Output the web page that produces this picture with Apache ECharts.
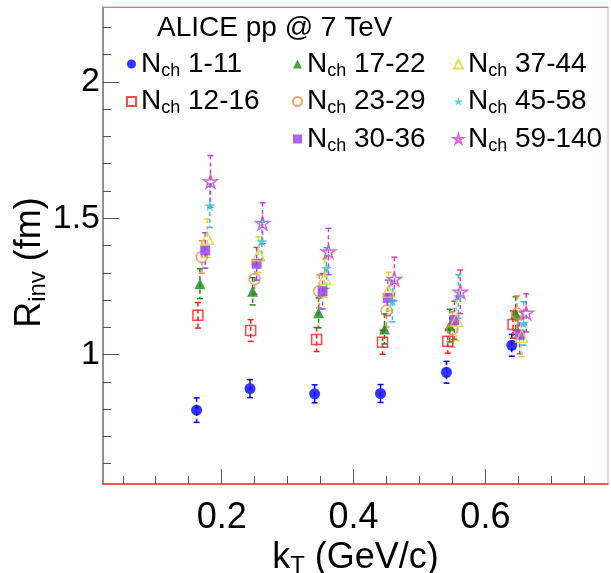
<!DOCTYPE html>
<html>
<head>
<meta charset="utf-8">
<script src="https://cdn.jsdelivr.net/npm/echarts@6/dist/echarts.min.js"></script>
<style>
html,body{margin:0;padding:0;background:#fff;}
#chart{width:611px;height:573px;}
</style>
</head>
<body>
<div id="chart"></div>
<script>
// ---- data ----
const nchClasses = ['1-11', '12-16', '17-22', '23-29', '30-36', '37-44', '45-58', '59-140'];

const kT_1_11   = [0.162, 0.243, 0.341, 0.441, 0.541, 0.640];
const kT_12_16  = [0.164, 0.244, 0.344, 0.444, 0.543, 0.642];
const kT_17_22  = [0.167, 0.247, 0.347, 0.447, 0.546, 0.646];
const kT_23_29  = [0.170, 0.250, 0.348, 0.450, 0.550, 0.648];
const kT_30_36  = [0.175, 0.253, 0.353, 0.452, 0.553, 0.652];
const kT_37_44  = [0.178, 0.256, 0.356, 0.453, 0.556, 0.655];
const kT_45_58  = [0.182, 0.261, 0.359, 0.459, 0.559, 0.658];
const kT_59_140 = [0.183, 0.262, 0.362, 0.462, 0.562, 0.662];

const R_1_11   = [0.796, 0.875, 0.856, 0.857, 0.935, 1.034];
const R_12_16  = [1.144, 1.088, 1.055, 1.045, 1.049, 1.110];
const R_17_22  = [1.260, 1.232, 1.153, 1.094, 1.106, 1.150];
const R_23_29  = [1.358, 1.277, 1.232, 1.161, 1.092, 1.150];
const R_30_36  = [1.382, 1.333, 1.232, 1.208, 1.126, 1.073];
const R_37_44  = [1.427, 1.366, 1.280, 1.232, 1.126, 1.067];
const R_45_58  = [1.546, 1.415, 1.317, 1.195, 1.213, 1.114];
const R_59_140 = [1.635, 1.482, 1.378, 1.277, 1.230, 1.153];

const err_1_11   = [0.045, 0.033, 0.033, 0.033, 0.040, 0.040];
const err_12_16  = [0.047, 0.040, 0.044, 0.044, 0.044, 0.050];
const err_17_22  = [0.055, 0.050, 0.055, 0.055, 0.060, 0.062];
const err_23_29  = [0.060, 0.055, 0.060, 0.060, 0.065, 0.065];
const err_30_36  = [0.065, 0.060, 0.065, 0.065, 0.070, 0.070];
const err_37_44  = [0.070, 0.065, 0.070, 0.070, 0.075, 0.075];
const err_45_58  = [0.080, 0.070, 0.075, 0.075, 0.080, 0.080];
const err_59_140 = [0.095, 0.075, 0.085, 0.080, 0.080, 0.070];

const xMajorTicks = [0.2, 0.4, 0.6];
const xMinorTicks = [0.05, 0.1, 0.15, 0.25, 0.3, 0.35, 0.45, 0.5, 0.55, 0.65, 0.7, 0.75];
const yMajorTicks = [1, 1.5, 2];
const yMinorTicks = [0.6, 0.7, 0.8, 0.9, 1.1, 1.2, 1.3, 1.4, 1.6, 1.7, 1.8, 1.9, 2.1, 2.2];

// ---- styling ----
const FONT = 'Liberation Sans, Arial, Helvetica, sans-serif';
const STAR = 'path://M50,0L61.17,34.63L97.55,34.55L68.07,55.87L79.39,90.45L50,69L20.61,90.45L31.93,55.87L2.45,34.55L38.83,34.63Z';
const CLEAR = 'rgba(255,255,255,0)';

const seriesDefs = [
  {cls: nchClasses[0], x: kT_1_11,   y: R_1_11,   e: err_1_11,   color: '#0000ff', symbol: 'circle',   open: false, size: 11},
  {cls: nchClasses[1], x: kT_12_16,  y: R_12_16,  e: err_12_16,  color: '#ff1a1a', symbol: 'rect',     open: true,  size: 10},
  {cls: nchClasses[2], x: kT_17_22,  y: R_17_22,  e: err_17_22,  color: '#1a8a1a', symbol: 'triangle', open: false, size: 11},
  {cls: nchClasses[3], x: kT_23_29,  y: R_23_29,  e: err_23_29,  color: '#f08a50', symbol: 'circle',   open: true,  size: 11},
  {cls: nchClasses[4], x: kT_30_36,  y: R_30_36,  e: err_30_36,  color: '#9a3cf0', symbol: 'rect',     open: false, size: 10},
  {cls: nchClasses[5], x: kT_37_44,  y: R_37_44,  e: err_37_44,  color: '#d8d830', symbol: 'triangle', open: true,  size: 12},
  {cls: nchClasses[6], x: kT_45_58,  y: R_45_58,  e: err_45_58,  color: '#30c8c8', symbol: STAR,       open: false, size: 11},
  {cls: nchClasses[7], x: kT_59_140, y: R_59_140, e: err_59_140, color: '#d040d0', symbol: STAR,       open: true,  size: 14}
];

const series = [];
seriesDefs.forEach((d, k) => {
  series.push({
    type: 'custom',
    name: 'err ' + d.cls,
    xAxisIndex: 0, yAxisIndex: 0,
    z: 2,
    silent: true,
    data: d.x.map((x, i) => [x, d.y[i], d.e[i]]),
    encode: {x: 0, y: 1},
    renderItem: function (params, api) {
      const x = api.value(0), y = api.value(1), e = api.value(2);
      const top = api.coord([x, y + e]);
      const bot = api.coord([x, y - e]);
      const st = {stroke: d.color, lineWidth: 1.5};
      return {
        type: 'group',
        children: [
          {type: 'line', shape: {x1: top[0], y1: top[1], x2: bot[0], y2: bot[1]}, style: {stroke: d.color, lineWidth: 1.5, lineDash: [4, 3]}},
          {type: 'line', shape: {x1: top[0] - 3, y1: top[1], x2: top[0] + 3, y2: top[1]}, style: st},
          {type: 'line', shape: {x1: bot[0] - 3, y1: bot[1], x2: bot[0] + 3, y2: bot[1]}, style: st}
        ]
      };
    }
  });
});
seriesDefs.forEach((d, k) => {
  series.push({
    type: 'scatter',
    name: 'Nch ' + d.cls,
    xAxisIndex: 0, yAxisIndex: 0,
    z: 3 + k,
    symbol: d.symbol,
    symbolKeepAspect: true,
    symbolSize: d.size,
    data: d.x.map((x, i) => [x, d.y[i]]),
    itemStyle: d.open
      ? {color: CLEAR, borderColor: d.color, borderWidth: 1.5}
      : {color: d.color, borderColor: d.color, borderWidth: 0},
    emphasis: {disabled: true}
  });
});

const legendRich = {
  n: {fontSize: 28, fontFamily: FONT, color: '#000', lineHeight: 32},
  s: {fontSize: 18, fontFamily: FONT, color: '#000', lineHeight: 6, verticalAlign: 'bottom'}
};
function legendBlock(left, names) {
  return {
    orient: 'vertical',
    left: left, top: 50,
    itemWidth: 9, itemHeight: 9, itemGap: 7.5, itemTextGap: 7,
    padding: 0,
    selectedMode: false,
    data: names.map(n => 'Nch ' + n),
    formatter: name => '{n|N}{s|ch}{n| ' + name.replace('Nch ', '') + '}',
    textStyle: {rich: legendRich}
  };
}

const option = {
  animation: false,
  backgroundColor: '#fff',
  textStyle: {fontFamily: FONT},
  title: {
    text: 'ALICE pp @ 7 TeV',
    left: 157, top: 14, padding: 0,
    textStyle: {fontSize: 28, fontWeight: 'normal', color: '#000', fontFamily: FONT}
  },
  legend: [
    legendBlock(126, nchClasses.slice(0, 2)),
    legendBlock(292, nchClasses.slice(2, 5)),
    legendBlock(453, nchClasses.slice(5, 8))
  ],
  grid: {left: 103, right: 3, top: 7, bottom: 89, show: true, borderColor: '#f4a0a0', borderWidth: 1, backgroundColor: 'transparent', outerBoundsMode: 'none', containLabel: false},
  xAxis: [
    {
      type: 'value', position: 'bottom', min: 0.02, max: 0.786,
      axisLine: {show: true, onZero: false, lineStyle: {color: '#e83030', width: 1.5}},
      axisTick: {show: true, inside: true, length: 15, customValues: xMajorTicks, lineStyle: {color: '#555', width: 1}},
      axisLabel: {customValues: xMajorTicks, fontSize: 36, color: '#000', margin: 16, fontFamily: FONT},
      splitLine: {show: false},
      name: '{a|k}{b|T}{a| (GeV/c)}',
      nameLocation: 'middle', nameGap: 54, nameMoveOverlap: false,
      nameTextStyle: {rich: {
        a: {fontSize: 36, color: '#000', fontFamily: FONT, lineHeight: 40},
        b: {fontSize: 24, color: '#000', fontFamily: FONT, lineHeight: 6, verticalAlign: 'bottom'}
      }}
    },
    {
      type: 'value', position: 'bottom', min: 0.02, max: 0.786,
      axisLine: {show: false, onZero: false},
      axisTick: {show: true, inside: true, length: 8, customValues: xMinorTicks, lineStyle: {color: '#555', width: 1}},
      axisLabel: {show: false},
      splitLine: {show: false}
    },
    {
      type: 'value', position: 'top', min: 0.02, max: 0.786,
      axisLine: {show: true, onZero: false, lineStyle: {color: '#999', width: 1}},
      axisTick: {show: false}, axisLabel: {show: false}, splitLine: {show: false}
    }
  ],
  yAxis: [
    {
      type: 'value', position: 'left', min: 0.525, max: 2.275,
      axisLine: {show: true, onZero: false, lineStyle: {color: '#777', width: 1.5}},
      axisTick: {show: true, inside: true, length: 16, customValues: yMajorTicks, lineStyle: {color: '#555', width: 1}},
      axisLabel: {customValues: yMajorTicks, fontSize: 34, color: '#000', margin: 3, fontFamily: FONT},
      splitLine: {show: false},
      name: '{a|R}{b|inv}{a| (fm)}',
      nameLocation: 'middle', nameGap: 53, nameRotate: 90, nameMoveOverlap: false,
      nameTextStyle: {padding: [0, 34, 0, 0], rich: {
        a: {fontSize: 36, color: '#000', fontFamily: FONT, lineHeight: 40},
        b: {fontSize: 24, color: '#000', fontFamily: FONT, lineHeight: 6, verticalAlign: 'bottom'}
      }}
    },
    {
      type: 'value', position: 'left', min: 0.525, max: 2.275,
      axisLine: {show: false, onZero: false},
      axisTick: {show: true, inside: true, length: 8, customValues: yMinorTicks, lineStyle: {color: '#555', width: 1}},
      axisLabel: {show: false},
      splitLine: {show: false}
    }
  ],
  series: series
};

const chart = echarts.init(document.getElementById('chart'), null, {renderer: 'canvas'});
chart.setOption(option);
</script>
</body>
</html>
